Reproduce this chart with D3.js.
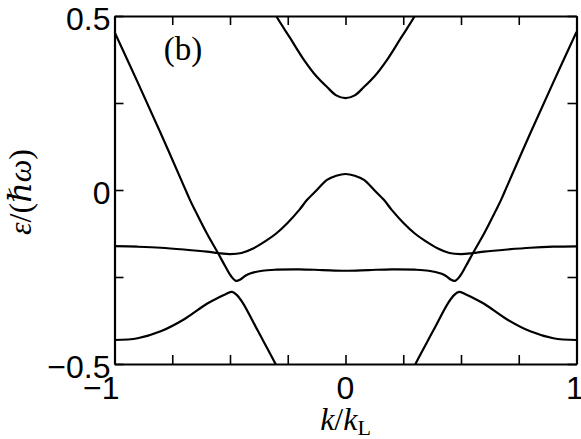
<!DOCTYPE html>
<html>
<head>
<meta charset="utf-8">
<script src="https://cdn.jsdelivr.net/npm/d3@7"></script>
<style>
html,body{margin:0;padding:0;background:#fff;}
svg{display:block;}
</style>
</head>
<body>
<svg id="chart" width="581" height="439"></svg>
<script>
// ---- data ----
const xTicks = [-1, -0.75, -0.5, -0.25, 0, 0.25, 0.5, 0.75, 1];
const yTicks = [-0.5, -0.25, 0, 0.25, 0.5];
const xLabels = [-1, 0, 1];
const yLabels = [-0.5, 0, 0.5];

// lowest band, left and right branches (leave the frame at the bottom)
const band1LeftK = [-1, -0.9, -0.8, -0.7, -0.6, -0.543, -0.515, -0.491, -0.47, -0.444, -0.38, -0.305, -0.28];
const band1LeftE = [-0.431, -0.426, -0.406, -0.372, -0.327, -0.307, -0.298, -0.293, -0.302, -0.325, -0.404, -0.497, -0.53];
const band1RightK = [0.28, 0.305, 0.38, 0.444, 0.47, 0.491, 0.515, 0.543, 0.6, 0.7, 0.8, 0.9, 1];
const band1RightE = [-0.53, -0.497, -0.404, -0.325, -0.302, -0.293, -0.298, -0.307, -0.327, -0.372, -0.406, -0.426, -0.431];

// "W" band
const band2K = [-1, -0.9, -0.8, -0.7, -0.673, -0.65, -0.6, -0.552, -0.52, -0.495, -0.474, -0.455, -0.435, -0.413, -0.36, -0.3, -0.2, -0.1, 0,
                0.1, 0.2, 0.3, 0.36, 0.413, 0.435, 0.455, 0.474, 0.495, 0.52, 0.552, 0.6, 0.65, 0.673, 0.7, 0.8, 0.9, 1];
const band2E = [0.454, 0.31, 0.163, 0.012, -0.029, -0.06, -0.125, -0.181, -0.22, -0.248, -0.261, -0.257, -0.247, -0.240, -0.232, -0.229, -0.228, -0.230, -0.232,
                -0.230, -0.228, -0.229, -0.232, -0.240, -0.247, -0.257, -0.261, -0.248, -0.22, -0.181, -0.125, -0.06, -0.029, 0.012, 0.163, 0.31, 0.454];

// flat band turning into the central bump
const band3K = [-1, -0.9, -0.8, -0.7, -0.6, -0.552, -0.5, -0.45, -0.4, -0.34, -0.3, -0.25, -0.2, -0.167, -0.124, -0.08, -0.04, 0,
                0.04, 0.08, 0.124, 0.167, 0.2, 0.25, 0.3, 0.34, 0.4, 0.45, 0.5, 0.552, 0.6, 0.7, 0.8, 0.9, 1];
const band3E = [-0.161, -0.163, -0.166, -0.171, -0.177, -0.181, -0.184, -0.181, -0.168, -0.144, -0.125, -0.094, -0.057, -0.029, 0.0, 0.029, 0.041, 0.046,
                0.041, 0.029, 0.0, -0.029, -0.057, -0.094, -0.125, -0.144, -0.168, -0.181, -0.184, -0.181, -0.177, -0.171, -0.166, -0.163, -0.162];

// upper band
const band4K = [-0.34, -0.3, -0.24, -0.18, -0.125, -0.08, -0.04, 0, 0.04, 0.08, 0.125, 0.18, 0.24, 0.3, 0.34];
const band4E = [0.55, 0.5, 0.437, 0.374, 0.326, 0.296, 0.272, 0.264, 0.272, 0.296, 0.326, 0.374, 0.437, 0.5, 0.55];

// ---- layout ----
const svg = d3.select("#chart");
const L = 114.5, R = 576.5, T = 16, B = 364;
const x = d3.scaleLinear().domain([-1, 1]).range([L, R]);
const y = d3.scaleLinear().domain([-0.5, 0.5]).range([B, T]);
const tickLen = 9;

svg.append("defs").append("clipPath").attr("id", "clip")
  .append("rect").attr("x", L).attr("y", T).attr("width", R - L).attr("height", B - T);

const line = d3.line().x(d => x(d[0])).y(d => y(d[1])).curve(d3.curveCatmullRom.alpha(0.5));
const zip = (a, b) => a.map((v, i) => [v, b[i]]);

const curves = svg.append("g").attr("clip-path", "url(#clip)");
[[band1LeftK, band1LeftE], [band1RightK, band1RightE], [band2K, band2E], [band3K, band3E], [band4K, band4E]]
  .forEach(([k, e]) => {
    curves.append("path").attr("d", line(zip(k, e)))
      .attr("fill", "none").attr("stroke", "#000").attr("stroke-width", 2.2)
      .attr("stroke-linejoin", "round");
  });

// axes: ticks inward on all four sides
function styleAxis(g) {
  g.selectAll(".domain").attr("stroke", "#000").attr("stroke-width", 2.2);
  g.selectAll(".tick line").attr("stroke", "#000").attr("stroke-width", 1.6);
  g.selectAll(".tick text").remove();
}
svg.append("g").attr("transform", `translate(0,${B})`)
  .call(d3.axisBottom(x).tickValues(xTicks).tickSize(-tickLen).tickSizeOuter(0)).call(styleAxis);
svg.append("g").attr("transform", `translate(0,${T})`)
  .call(d3.axisTop(x).tickValues(xTicks).tickSize(-tickLen).tickSizeOuter(0)).call(styleAxis);
svg.append("g").attr("transform", `translate(${L},0)`)
  .call(d3.axisLeft(y).tickValues(yTicks).tickSize(-tickLen).tickSizeOuter(0)).call(styleAxis);
svg.append("g").attr("transform", `translate(${R},0)`)
  .call(d3.axisRight(y).tickValues(yTicks).tickSize(-tickLen).tickSizeOuter(0)).call(styleAxis);

const fmt = v => (v < 0 ? "\u2212" : "") + Math.abs(v).toString();
const tickFont = "'Liberation Sans', Arial, Helvetica, sans-serif";

// x tick labels
svg.append("g").selectAll("text").data(xLabels).join("text")
  .attr("x", d => d < 0 ? x(d) + 5 : (d > 0 ? x(d) - 1.5 : x(d)))
  .attr("y", 399)
  .attr("text-anchor", d => d < 0 ? "end" : "middle")
  .attr("font-family", tickFont).attr("font-size", 32)
  .text(fmt);

// y tick labels
svg.append("g").selectAll("text").data(yLabels).join("text")
  .attr("x", L - 4)
  .attr("y", d => y(d) + 14)
  .attr("text-anchor", "end")
  .attr("font-family", tickFont).attr("font-size", 32)
  .text(fmt);

const serif = "'Liberation Serif', 'Times New Roman', 'DejaVu Serif', serif";

// x axis label k/k_L
const xl = svg.append("text").attr("x", 345.5).attr("y", 430)
  .attr("text-anchor", "middle").attr("font-family", serif).attr("font-size", 32);
xl.append("tspan").attr("font-style", "italic").text("k");
xl.append("tspan").text("/");
xl.append("tspan").attr("font-style", "italic").text("k");
xl.append("tspan").attr("font-size", 22).attr("dy", 5).text("L");

// y axis label ε/(ħω)
const yl = svg.append("text").attr("transform", "translate(31,192) rotate(-90)")
  .attr("text-anchor", "middle").attr("font-family", serif).attr("font-size", 32);
yl.append("tspan").attr("font-style", "italic").text("\u03b5");
yl.append("tspan").text("/(");
yl.append("tspan").attr("font-style", "italic").text("\u210f\u03c9");
yl.append("tspan").text(")");

// panel label
svg.append("text").attr("x", 183).attr("y", 60).attr("text-anchor", "middle")
  .attr("font-family", serif).attr("font-size", 33).text("(b)");
</script>
</body>
</html>
